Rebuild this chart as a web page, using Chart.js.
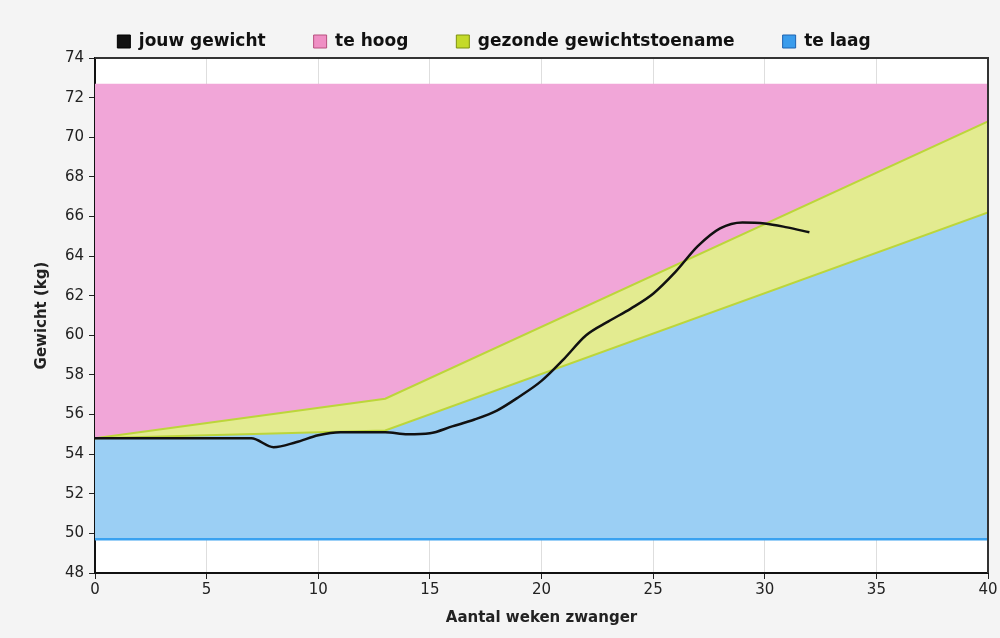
<!DOCTYPE html>
<html>
<head>
<meta charset="utf-8">
<script src="https://cdn.jsdelivr.net/npm/chart.js@4.4.1/dist/chart.umd.min.js"></script>
<style>
html, body { margin: 0; padding: 0; background: #f4f4f4; }
#wrap { width: 1000px; height: 638px; }
</style>
</head>
<body>
<div id="wrap"><canvas id="grafiek"></canvas></div>
<script>
// gemeten gewicht per week
const weken = [0, 7, 8, 9, 10, 11, 13, 14, 15, 16, 17, 18, 19, 20, 21, 22, 23, 24, 25, 26, 27, 28, 29, 30, 31, 32];
const gewicht = [54.8, 54.8, 54.35, 54.6, 54.95, 55.1, 55.1, 55.0, 55.05, 55.4, 55.75, 56.2, 56.9, 57.7, 58.8, 60.0, 60.7, 61.35, 62.1, 63.2, 64.5, 65.4, 65.7, 65.65, 65.45, 65.2];

// grenzen van de zones
const grensWeken = [0, 13, 40];
const grensBoven = [72.7, 72.7, 72.7];
const grensGezondHoog = [54.8, 56.8, 70.8];
const grensGezondLaag = [54.8, 55.2, 66.2];
const grensOnder = [49.7, 49.7, 49.7];

const legendNamen = ["jouw gewicht", "te hoog", "gezonde gewichtstoename", "te laag"];
const legendKleur = ["#111111", "#ef8fc4", "#c4da2a", "#3a9cec"];
const legendRand = ["#000000", "#b8507f", "#7d9110", "#1d62b0"];

const xTicks = [0, 5, 10, 15, 20, 25, 30, 35, 40];
const yTicks = [48, 50, 52, 54, 56, 58, 60, 62, 64, 66, 68, 70, 72, 74];

function punten(xs, ys) {
    return xs.map((x, i) => ({ x: x, y: ys[i] }));
}

const achtergrond = {
    id: "achtergrond",
    beforeDraw(chart) {
        const { ctx, chartArea: a } = chart;
        ctx.save();
        ctx.fillStyle = "#ffffff";
        ctx.fillRect(a.left, a.top, a.right - a.left, a.bottom - a.top);
        ctx.restore();
    },
    afterDraw(chart) {
        const { ctx, chartArea: a } = chart;
        ctx.save();
        ctx.strokeStyle = "#333";
        ctx.lineWidth = 2;
        ctx.beginPath();
        ctx.moveTo(a.left, a.top);
        ctx.lineTo(a.right, a.top);
        ctx.lineTo(a.right, a.bottom);
        ctx.stroke();
        ctx.restore();
    }
};

const fontNaam = "'DejaVu Sans', Verdana, sans-serif";

new Chart(document.getElementById("grafiek"), {
    type: "line",
    data: {
        datasets: [
            {
                label: "jouw gewicht",
                data: punten(weken, gewicht),
                borderColor: "#111111",
                backgroundColor: "#111111",
                borderWidth: 2.5,
                pointRadius: 0,
                cubicInterpolationMode: "monotone",
                fill: false,
                order: 0
            },
            {
                label: "te hoog",
                data: punten(grensWeken, grensBoven),
                borderWidth: 0,
                borderColor: "rgba(0,0,0,0)",
                backgroundColor: "#f1a6d8",
                pointRadius: 0,
                tension: 0,
                fill: 2,
                order: 1
            },
            {
                label: "gezonde gewichtstoename",
                data: punten(grensWeken, grensGezondHoog),
                borderWidth: 2,
                borderColor: "#bcd63a",
                backgroundColor: "#e3eb90",
                pointRadius: 0,
                tension: 0,
                fill: 3,
                order: 2
            },
            {
                label: "te laag",
                data: punten(grensWeken, grensGezondLaag),
                borderWidth: 2,
                borderColor: "#bcd63a",
                backgroundColor: "#9bcff4",
                pointRadius: 0,
                tension: 0,
                fill: 4,
                order: 3
            },
            {
                label: "onder",
                data: punten(grensWeken, grensOnder),
                borderWidth: 2.5,
                borderColor: "#3aa2f0",
                backgroundColor: "rgba(0,0,0,0)",
                pointRadius: 0,
                tension: 0,
                fill: false,
                order: 4
            }
        ]
    },
    plugins: [achtergrond],
    options: {
        responsive: true,
        maintainAspectRatio: false,
        animation: false,
        layout: {
            padding: { top: -15, right: 12, left: 0, bottom: 0 }
        },
        plugins: {
            filler: { drawTime: "beforeDatasetsDraw" },
            tooltip: { enabled: false },
            legend: {
                display: true,
                position: "top",
                maxHeight: 73,
                labels: {
                    padding: 48,
                    boxWidth: 13,
                    boxHeight: 13,
                    color: "#111",
                    font: { family: fontNaam, size: 17, weight: "bold" },
                    generateLabels: () => legendNamen.map((t, i) => ({
                        text: t,
                        fillStyle: legendKleur[i],
                        strokeStyle: legendRand[i],
                        lineWidth: 1,
                        hidden: false,
                        datasetIndex: i,
                        fontColor: "#111"
                    }))
                }
            }
        },
        scales: {
            x: {
                type: "linear",
                min: 0,
                max: 40,
                z: 1,
                afterBuildTicks: s => { s.ticks = xTicks.map(v => ({ value: v })); },
                afterFit: s => { s.height = 65; },
                ticks: {
                    color: "#222",
                    padding: 2,
                    font: { family: fontNaam, size: 15 }
                },
                grid: {
                    color: "rgba(0,0,0,0.13)",
                    tickLength: 6,
                    tickColor: "#222"
                },
                border: { color: "#111", width: 2 },
                title: {
                    display: true,
                    text: "Aantal weken zwanger",
                    color: "#222",
                    padding: { top: 4, bottom: 11 },
                    font: { family: fontNaam, size: 15, weight: "bold" }
                }
            },
            y: {
                min: 48,
                max: 74,
                z: 1,
                afterBuildTicks: s => { s.ticks = yTicks.map(v => ({ value: v })); },
                afterFit: s => { s.width = 95; },
                ticks: {
                    color: "#222",
                    padding: 5,
                    font: { family: fontNaam, size: 15 }
                },
                grid: {
                    color: "rgba(0,0,0,0.13)",
                    tickLength: 6,
                    tickColor: "#222"
                },
                border: { color: "#111", width: 2 },
                title: {
                    display: true,
                    text: "Gewicht (kg)",
                    color: "#222",
                    padding: { top: 33, bottom: 0 },
                    font: { family: fontNaam, size: 15, weight: "bold" }
                }
            }
        }
    }
});
</script>
</body>
</html>
